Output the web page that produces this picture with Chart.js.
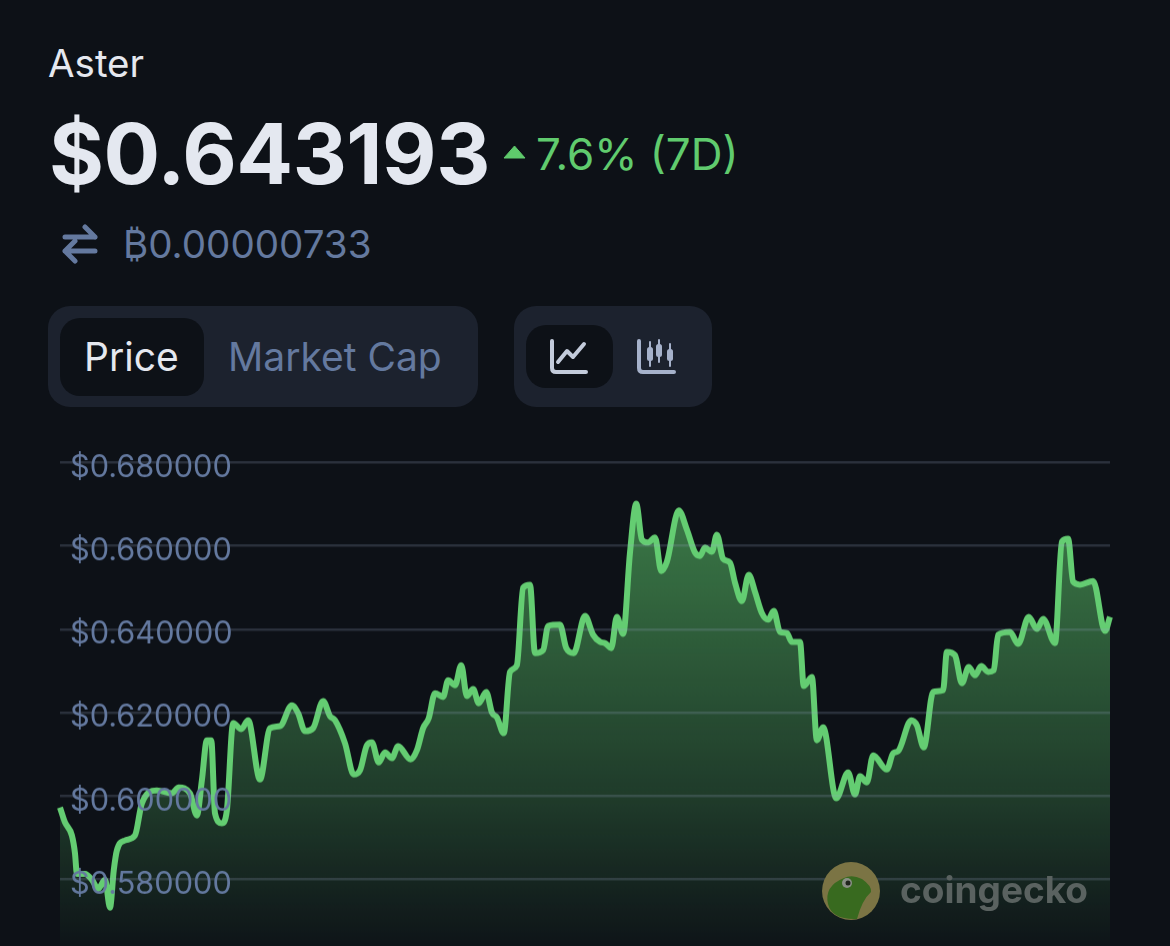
<!DOCTYPE html>
<html>
<head>
<meta charset="utf-8">
<script src="https://cdn.jsdelivr.net/npm/chart.js@4"></script>
<style>
  html, body { margin: 0; height: 100%; background: #0d1117; overflow: hidden; font-family: Inter, sans-serif; }
  .abs { position: absolute; white-space: nowrap; }
  #chart-box { position: absolute; left: 40px; top: 414.4px; width: 1090px; height: 560.2px; }
</style>
</head>
<body>
<div class="abs" style="left:48px;top:41px;font-size:38.5px;line-height:44px;color:#e5e8ef">Aster</div>
<div class="abs" style="left:49px;top:105px;font-size:84px;line-height:98px;font-weight:700;color:#e4e8f0;letter-spacing:-0.5px">$0.643193</div>
<svg class="abs" style="left:503px;top:145px" width="23" height="14"><path d="M11.5 1 L22 13 L1 13 Z" fill="#5fca6c" stroke="#5fca6c" stroke-linejoin="round"/></svg>
<div class="abs" style="left:536px;top:129px;font-size:44px;line-height:50px;color:#60cb6e">7.6% (7D)</div>
<svg class="abs" style="left:61px;top:224px" width="38" height="40" fill="none" stroke="#64799f" stroke-width="5" stroke-linecap="round" stroke-linejoin="round"><path d="M4 13 H34 M24 3 L34 13 M34 27 H4 M14 17 L4 27 M4 27 L14 37"/></svg>
<div class="abs" style="left:123px;top:221px;font-size:38.6px;line-height:46px;color:#64799f">₿0.00000733</div>

<div class="abs" style="left:48px;top:306px;width:430px;height:101px;background:#1c222e;border-radius:22px"></div>
<div class="abs" style="left:60px;top:318px;width:144px;height:78px;background:#0d1117;border-radius:20px"></div>
<div class="abs" style="left:84px;top:335px;font-size:39px;line-height:44px;color:#e5e8ef">Price</div>
<div class="abs" style="left:228px;top:335px;font-size:39px;line-height:44px;color:#64799f">Market Cap</div>

<div class="abs" style="left:514px;top:306px;width:198px;height:101px;background:#1c222e;border-radius:22px"></div>
<div class="abs" style="left:526px;top:325px;width:87px;height:63px;background:#0d1117;border-radius:20px"></div>
<svg class="abs" style="left:548px;top:338px" width="42" height="38" fill="none" stroke="#c3cbdb" stroke-width="4" stroke-linecap="round" stroke-linejoin="round"><path d="M4 3 V30 Q4 34 8 34 H38"/><path d="M10 24 L19 13 L25 19 L36 6"/></svg>
<svg class="abs" style="left:635px;top:338px" width="42" height="38" fill="none" stroke="#a6b2cb" stroke-linecap="round"><path stroke-width="4" d="M4 3 V30 Q4 34 8 34 H39"/><g stroke-width="2"><path d="M15 4 V28 M24 2 V24 M35 6 V28"/></g><g fill="#a6b2cb" stroke="none"><rect x="12" y="9" width="6" height="14" rx="2.5"/><rect x="21" y="6" width="6" height="13" rx="2.5"/><rect x="32" y="11" width="6" height="12" rx="2.5"/></g></svg>

<div id="chart-box"><canvas id="price-chart"></canvas></div>

<svg class="abs" style="left:822px;top:862px" width="58" height="58"><circle cx="29" cy="29" r="29" fill="#7b7444"/><path d="M22 16 Q30 12 40 17 Q50 24 49 30 Q40 38 35 57 Q10 58 6 42 Q2 24 22 16 Z" fill="#386a1f"/><circle cx="25" cy="21" r="5" fill="#8a8f86"/><circle cx="26" cy="21" r="2.5" fill="#20241d"/></svg>
<div class="abs" style="left:900px;top:868px;font-size:37px;line-height:44px;font-weight:700;color:#5a6260">coingecko</div>

<script>
// hours since the start of the 7D window
const hours = [0, 0.8, 1.9, 2.4, 2.7, 4, 5.1, 6.1, 7.2, 8, 8.6, 9.1, 10.4, 12, 13.1, 15.5, 17.9, 19, 20.8, 21.9,
  22.7, 23.5, 24.2, 24.8, 25.9, 26.7, 27.7, 29, 30.1, 32, 33.6, 35.2, 37.1, 38.1, 39.2, 40.5, 42.1, 43.2, 44, 45.6,
  47, 48, 49.1, 49.9, 51, 52, 53.1, 54.1, 56.1, 57.1, 58.1, 59, 60, 61.3, 62.1, 63.2, 64.2, 65.1, 66.1, 67,
  68.2, 69.1, 69.9, 71, 72, 73.1, 74.1, 75.2, 76, 77.3, 78.1, 80, 81, 82.2, 84, 85.3, 86.4, 87.2, 88.2, 89.1,
  90.1, 91.2, 92.2, 93.1, 94.1, 95.2, 96.2, 97.1, 99, 100.3, 101.6, 102.4, 103.2, 104.3, 105.1, 106.1, 107.2, 108, 109.1, 110.2,
  111.2, 112.3, 113.3, 114.2, 115.2, 116.3, 117.1, 118.4, 119, 120.3, 121.1, 122.1, 124.2, 126.1, 127.2, 128, 129.1, 130.1, 132.3, 133.3,
  134.1, 136.2, 137.1, 138.2, 139.7, 141.3, 141.9, 143.2, 144.3, 145.4, 146.4, 147.4, 148.5, 149.4, 150.1, 152, 153.3, 155, 156.3, 157.3,
  159.2, 160.3, 161.3, 162.1, 163.2, 165.3, 167.2, 168];

const prices = [0.5973, 0.5937, 0.5906, 0.5863, 0.5814, 0.5814, 0.58, 0.5778, 0.58, 0.5733, 0.5822, 0.587, 0.5894, 0.5906, 0.5983, 0.6014, 0.6007, 0.6021, 0.6007, 0.5954,
  0.6038, 0.6134, 0.6134, 0.5959, 0.5935, 0.5966, 0.6175, 0.6161, 0.6182, 0.604, 0.6163, 0.6168, 0.6218, 0.6199, 0.6156, 0.6163, 0.6228, 0.6192, 0.6182, 0.6127,
  0.6052, 0.6062, 0.6122, 0.6129, 0.6081, 0.6105, 0.6091, 0.612, 0.6088, 0.611, 0.6163, 0.6187, 0.6247, 0.6238, 0.6278, 0.6266, 0.6314, 0.624, 0.6257, 0.6223,
  0.625, 0.6201, 0.6189, 0.6151, 0.6298, 0.6314, 0.65, 0.6507, 0.6343, 0.635, 0.6408, 0.6411, 0.6355, 0.6343, 0.6432, 0.6387, 0.637, 0.6367, 0.6355, 0.643,
  0.6389, 0.6584, 0.6701, 0.6615, 0.6608, 0.662, 0.654, 0.6562, 0.6685, 0.6639, 0.6584, 0.6576, 0.6596, 0.6586, 0.6627, 0.6569, 0.656, 0.6512, 0.6468, 0.6531,
  0.649, 0.6439, 0.6423, 0.6444, 0.6394, 0.6391, 0.637, 0.637, 0.6264, 0.6286, 0.6134, 0.6165, 0.5995, 0.6057, 0.6004, 0.6048, 0.6033, 0.6098, 0.6064, 0.6103,
  0.6108, 0.6182, 0.617, 0.6117, 0.625, 0.6254, 0.6346, 0.6338, 0.6271, 0.631, 0.629, 0.6312, 0.6298, 0.6302, 0.6387, 0.6394, 0.6365, 0.643, 0.6401, 0.6425,
  0.6367, 0.661, 0.6617, 0.6514, 0.6507, 0.6516, 0.6396, 0.643];

const yTicks = [0.58, 0.6, 0.62, 0.64, 0.66, 0.68];

function areaFill(context) {
  const area = context.chart.chartArea;
  if (!area) return null;
  const gradient = context.chart.ctx.createLinearGradient(0, 85, 0, area.bottom);
  gradient.addColorStop(0, "rgba(96, 205, 110, 0.56)");
  gradient.addColorStop(0.68, "rgba(96, 205, 110, 0.22)");
  gradient.addColorStop(1, "rgba(96, 205, 110, 0.02)");
  return gradient;
}

const ctx = document.getElementById("price-chart").getContext("2d");
const priceChart = new Chart(ctx, {
  type: "line",
  data: {
    datasets: [
      {
        label: "Price",
        data: hours.map((h, i) => ({ x: h, y: prices[i] })),
        borderColor: "#64cd72",
        borderWidth: 6,
        backgroundColor: areaFill,
        fill: "start",
        cubicInterpolationMode: "monotone",
        pointRadius: 0,
        clip: false,
      },
    ],
  },
  options: {
    responsive: true,
    maintainAspectRatio: false,
    animation: false,
    layout: { padding: { left: 0, right: 20, top: 0, bottom: 0 } },
    plugins: { legend: { display: false }, tooltip: { enabled: false } },
    scales: {
      x: { type: "linear", min: 0, max: 168, display: false },
      y: {
        min: 0.5639,
        max: 0.6848,
        afterBuildTicks: (axis) => {
          axis.ticks = yTicks.map((value) => ({ value }));
        },
        border: { display: false },
        grid: { color: "rgba(148, 163, 195, 0.22)", lineWidth: 2.5, drawTicks: false, z: 1 },
        ticks: {
          mirror: true,
          z: 2,
          padding: 10,
          labelOffset: 5,
          color: "#64799f",
          font: { family: "Inter", size: 30.7 },
          callback: (value) => "$" + value.toFixed(6),
        },
      },
    },
  },
});
</script>
</body>
</html>
